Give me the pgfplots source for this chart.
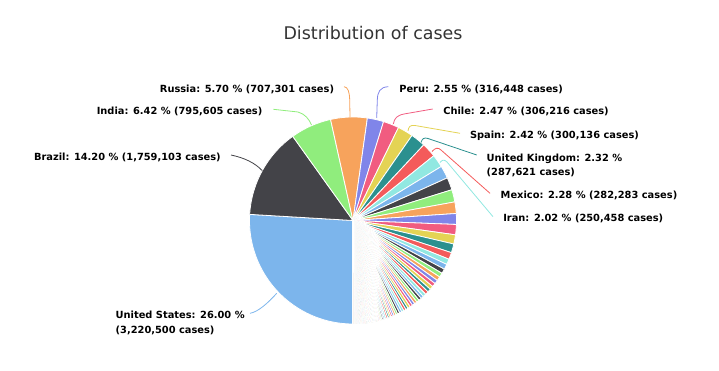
\documentclass[border=0pt]{standalone}
\usepackage{pgfplots}
\pgfplotsset{compat=1.18}
\usepackage{pgfplotstable}
\usepackage{fontspec}
\setmainfont{DejaVu Sans}

\definecolor{hc0}{HTML}{7CB5EC}
\definecolor{hc1}{HTML}{434348}
\definecolor{hc2}{HTML}{90ED7D}
\definecolor{hc3}{HTML}{F7A35C}
\definecolor{hc4}{HTML}{8085E9}
\definecolor{hc5}{HTML}{F15C80}
\definecolor{hc6}{HTML}{E4D354}
\definecolor{hc7}{HTML}{2B908F}
\definecolor{hc8}{HTML}{F45B5B}
\definecolor{hc9}{HTML}{91E8E1}
\definecolor{titlegray}{HTML}{333333}

\pgfplotstableread[col sep=comma]{
country,cases
United States,3220500
Brazil,1759103
India,795605
Russia,707301
Peru,316448
Chile,306216
Spain,300136
United Kingdom,287621
Mexico,282283
Iran,250458
Pakistan,246351
Italy,242639
South Africa,238339
Saudi Arabia,223327
Turkey,209962
Germany,199001
Bangladesh,178443
France,170752
Colombia,133973
Canada,107347
Qatar,102110
Argentina,90693
China,83587
Egypt,79254
Sweden,74333
Indonesia,72347
Iraq,69612
Ecuador,65018
Belarus,64224
Belgium,62469
Kazakhstan,54747
United Arab Emirates,54050
Kuwait,53580
Ukraine,52043
Philippines,51754
Oman,51725
Netherlands,51146
Portugal,46221
Panama,45633
Singapore,45613
Dominican Republic,44532
Bolivia,44113
Poland,37521
Israel,35533
Afghanistan,34194
Switzerland,32498
Bahrain,31528
Romania,31381
Nigeria,31323
Armenia,30903
Honduras,27583
Guatemala,26658
Ireland,25583
Ghana,23463
Azerbaijan,22464
Japan,20719
Moldova,18666
Austria,18365
Algeria,18242
Serbia,18073
Nepal,16649
Morocco,15328
Cameroon,15173
South Korea,13338
Denmark,12946
Czechia,12919
Uzbekistan,12725
Ivory Coast,12052
Kyrgyzstan,10410
Sudan,10204
El Salvador,9142
Australia,9059
Kenya,8975
Norway,8950
Venezuela,8803
Malaysia,8696
North Macedonia,7932
Senegal,7882
DR Congo,7843
Costa Rica,7596
Finland,7273
Ethiopia,6774
Haiti,6727
Bulgaria,6672
Tajikistan,6551
Guinea,6141
Bosnia and Herzegovina,6100
Gabon,5942
Luxembourg,4956
Djibouti,4889
Mauritania,4879
Central African Republic,4288
Hungary,4234
Madagascar,3782
Greece,3672
Croatia,3672
Kosovo,3652
Albania,3278
Thailand,3202
Equatorial Guinea,3071
Somalia,3059
Paraguay,2702
Sri Lanka,2646
Maldives,2567
Nicaragua,2519
Cuba,2418
Mali,2303
Malawi,2261
South Sudan,2125
Republic of the Congo,2103
Lebanon,2011
Estonia,2011
Zambia,1895
Iceland,1880
Lithuania,1847
Guinea-Bissau,1842
Slovenia,1827
Slovakia,1798
Sierra Leone,1618
New Zealand,1542
Cabo Verde,1542
Eswatini,1351
Libya,1342
Yemen,1297
Rwanda,1252
Tunisia,1221
Montenegro,1221
Benin,1199
Jordan,1167
Mozambique,1157
Latvia,1155
Niger,1093
Cyprus,1021
Burkina Faso,1020
Uganda,1013
Liberia,1010
Uruguay,987
Georgia,975
Zimbabwe,926
Chad,874
Andorra,855
Namibia,785
Jamaica,753
Sao Tome and Principe,727
Diamond Princess,712
Togo,702
San Marino,699
Malta,674
Suriname,595
Tanzania,509
Taiwan,451
Botswana,399
Angola,396
Syria,394
Vietnam,369
Mauritius,342
Myanmar,321
Comoros,317
Guyana,286
Burundi,269
Lesotho,245
Eritrea,232
Mongolia,227
Cambodia,156
Brunei,141
Trinidad and Tobago,133
Bahamas,111
Monaco,108
Barbados,98
Liechtenstein,84
Seychelles,81
Bhutan,80
Antigua and Barbuda,70
Gambia,63
Belize,30
Saint Vincent and the Grenadines,29
Fiji,26
Timor-Leste,24
Grenada,23
Saint Lucia,22
Laos,19
Dominica,18
Saint Kitts and Nevis,16
Holy See,12
Papua New Guinea,11
Western Sahara,10
MS Zaandam,9
}\casestable

\pgfplotstablegetrowsof{\casestable}
\pgfmathtruncatemacro\lastrow{\pgfplotsretval-1}

\gdef\casestotal{0}
\pgfplotsforeachungrouped \rowi in {0,...,\lastrow}{%
  \pgfplotstablegetelem{\rowi}{cases}\of\casestable
  \xdef\casestotal{\fpeval{\casestotal+\pgfplotsretval}}%
}

\newcommand\pieX{353}
\newcommand\pieY{150.5}
\newcommand\pieR{103.5}

\newcommand\drawwedge[3]{%
  \gdef\wcoords{(\pieX,\pieY)}%
  \edef\wn{\fpeval{max(1,ceil((#2-#1)/1.5))}}%
  \foreach \k in {0,...,\wn}{%
    \edef\wang{\fpeval{#1+(#2-#1)*\k/\wn}}%
    \xdef\wcoords{\wcoords (\fpeval{round(\pieX+\pieR*sind(\wang),3)},\fpeval{round(\pieY+\pieR*cosd(\wang),3)})}%
  }%
  \edef\wtemp{\noexpand\addplot[fill=#3,draw=white,line width=0.8bp,line join=round] coordinates {\wcoords (\pieX,\pieY)};}%
  \wtemp
}

\begin{document}
\begin{tikzpicture}
\useasboundingbox (0,0) rectangle (719bp,371bp);
\begin{axis}[
  at={(0,0)}, anchor=south west,
  scale only axis, width=719bp, height=371bp,
  xmin=0, xmax=719, ymin=0, ymax=371,
  hide axis, clip=false,
]
\gdef\cum{0}
\pgfplotsforeachungrouped \rowi in {0,...,\lastrow}{%
  \pgfplotstablegetelem{\rowi}{cases}\of\casestable
  \edef\wA{\fpeval{180+360*\cum/\casestotal}}%
  \xdef\cum{\fpeval{\cum+\pgfplotsretval}}%
  \edef\wB{\fpeval{180+360*\cum/\casestotal}}%
  \edef\wci{\fpeval{\rowi-10*trunc(\rowi/10)}}%
  \drawwedge{\wA}{\wB}{hc\wci}%
}

% connectors
\draw[hc3, line width=0.8bp] (344,284.3) .. controls (348,284) and (349.5,279) .. (349.7,271) -- (350,254);
\draw[hc4, line width=0.8bp] (388.3,284.3) .. controls (380,284) and (377.5,279) .. (377.3,271) -- (376.7,253);
\draw[hc2, line width=0.8bp] (273.3,261.7) -- (298,259) .. controls (305,257) and (309,252) .. (311.5,246);
\draw[hc1, line width=0.8bp] (231,216) .. controls (245,213) and (255,208) .. (262.3,200.3);
\draw[hc0, line width=0.8bp] (250,57.7) .. controls (258,59) and (268,68) .. (276.7,77.7);
\draw[hc5, line width=0.8bp] (432.7,262) -- (404,257) .. controls (397,255.5) and (394.5,253) .. (393.3,247);
\draw[hc6, line width=0.8bp] (460,237.7) -- (415,245.5) .. controls (410,246.2) and (408.5,244) .. (408,240);
\draw[hc7, line width=0.8bp] (476.7,216) -- (428,232.5) .. controls (424,234) and (422,232) .. (421,228.5);
\draw[hc8, line width=0.8bp] (490,177.7) -- (441,221) .. controls (438,224) and (435,223) .. (432,219.5);
\draw[hc9, line width=0.8bp] (493,154.3) -- (447,209) .. controls (444,212) and (442,211) .. (440,208.5);

% labels
\tikzset{lbl/.style={inner sep=0pt, outer sep=0pt, font=\fontsize{9.85bp}{12bp}\selectfont\bfseries, text=black}}
\node[lbl, anchor=base east] at (334,278.2) {Russia: 5.70 \% (707,301 cases)};
\node[lbl, anchor=base east] at (262.3,256) {India: 6.42 \% (795,605 cases)};
\node[lbl, anchor=base east] at (220.7,210) {Brazil: 14.20 \% (1,759,103 cases)};
\node[lbl, anchor=base west] at (115.7,52) {United States: 26.00 \%};
\node[lbl, anchor=base west] at (115.7,37.7) {(3,220,500 cases)};
\node[lbl, anchor=base west] at (399.3,278.2) {Peru: 2.55 \% (316,448 cases)};
\node[lbl, anchor=base west] at (443.3,256) {Chile: 2.47 \% (306,216 cases)};
\node[lbl, anchor=base west] at (470,232) {Spain: 2.42 \% (300,136 cases)};
\node[lbl, anchor=base west] at (486.7,209.3) {United Kingdom: 2.32 \%};
\node[lbl, anchor=base west] at (486.7,195) {(287,621 cases)};
\node[lbl, anchor=base west] at (500.7,172.7) {Mexico: 2.28 \% (282,283 cases)};
\node[lbl, anchor=base west] at (503.3,149.3) {Iran: 2.02 \% (250,458 cases)};

\node[inner sep=0pt, anchor=base, text=titlegray, font=\fontsize{17.45bp}{20bp}\selectfont] at (373,331) {Distribution of cases};
\end{axis}
\end{tikzpicture}
\end{document}
